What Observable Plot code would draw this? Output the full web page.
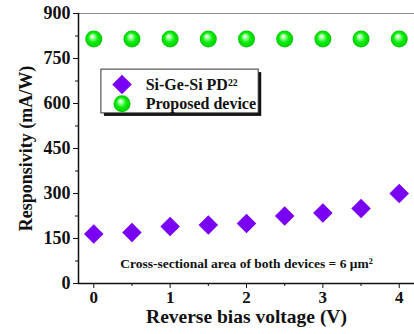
<!DOCTYPE html>
<html>
<head>
<meta charset="utf-8">
<script src="https://cdn.jsdelivr.net/npm/d3@7"></script>
<script src="https://cdn.jsdelivr.net/npm/@observablehq/plot@0.6"></script>
<style>
  html, body { margin: 0; padding: 0; background: #fff; }
  #chart svg { display: block; }
</style>
</head>
<body>
<div id="chart"></div>
<script>
// ---- data ----
const voltage = [0, 0.5, 1, 1.5, 2, 2.5, 3, 3.5, 4];
const siGeSi = [165, 170, 190, 195, 200, 225, 235, 250, 300];
const proposed = [815, 815, 815, 815, 815, 815, 815, 815, 815];
const seriesNames = ["Si-Ge-Si PD²²", "Proposed device"];
const yTicks = [0, 150, 300, 450, 600, 750, 900];
const yMinor = [75, 225, 375, 525, 675, 825];
const xTicks = [0, 1, 2, 3, 4];
const xMinor = [0.5, 1.5, 2.5, 3.5];
const xLabel = "Reverse bias voltage (V)";
const yLabel = "Responsivity (mA/W)";
const note = "Cross-sectional area of both devices = 6 μm²";

// legend placement (data coordinates)
const legendBox = {x1: 0.1, x2: 2.16, y1: 567, y2: 713};
const legendSym = 0.37, legendText = 0.68;
const legendRows = [663, 599];

const purple = "#7a00f5";
const serif = "Liberation Serif";

const pts1 = voltage.map((v, i) => ({v, r: siGeSi[i]}));
const pts2 = voltage.map((v, i) => ({v, r: proposed[i]}));

const chart = Plot.plot({
  width: 414,
  height: 334,
  marginLeft: 78,
  marginRight: 0,
  marginTop: 13,
  marginBottom: 51,
  style: {fontSize: "18px", color: "#111", background: "#fff", fontFamily: serif},
  x: {domain: [-0.2, 4.2]},
  y: {domain: [0, 900]},
  marks: [
    // axes
    Plot.axisY({ticks: yTicks, tickSize: 5, tickPadding: 3, tickFormat: d => String(d), label: null, fontSize: 18}),
    Plot.axisY({ticks: yMinor, tickSize: 3, tickFormat: () => "", label: null}),
    Plot.axisX({ticks: xTicks, tickSize: 5, tickPadding: 2, tickFormat: d => String(d), label: null, fontSize: 17}),
    Plot.axisX({ticks: xMinor, tickSize: 3, tickFormat: () => "", label: null}),
    Plot.ruleY([900], {stroke: "#888", strokeWidth: 1.2}),
    Plot.ruleX([-0.2], {stroke: "#111", strokeWidth: 1.5}),
    Plot.ruleY([0], {stroke: "#111", strokeWidth: 1.5}),
    // axis titles
    Plot.text([xLabel], {frameAnchor: "bottom", dy: 39, fontSize: 19.5, fill: "#111"}),
    Plot.text([yLabel], {frameAnchor: "left", textAnchor: "middle", dx: -52, rotate: -90, fontSize: 18, fill: "#111"}),
    // annotation
    Plot.text([note], {x: () => 2, y: () => 67, fontSize: 13.5, fill: "#111"}),
    // legend
    Plot.rect([legendBox], {x1: "x1", x2: "x2", y1: "y1", y2: "y2", fill: "#111", dx: 3, dy: 3}),
    Plot.rect([legendBox], {x1: "x1", x2: "x2", y1: "y1", y2: "y2", fill: "#fff", stroke: "#333", strokeWidth: 1}),
    Plot.dot([legendRows[0]], {x: () => legendSym, y: d => d, symbol: "diamond2", r: 8.8, fill: purple}),
    Plot.dot([legendRows[1]], {x: () => legendSym, y: d => d, symbol: "circle", r: 8.5, fill: "url(#gball)"}),
    Plot.text(seriesNames, {x: () => legendText, y: (d, i) => legendRows[i], textAnchor: "start", fontSize: 16, fill: "#111"}),
    // data
    Plot.dot(pts1, {x: "v", y: "r", symbol: "diamond2", r: 8.8, fill: purple}),
    Plot.dot(pts2, {x: "v", y: "r", symbol: "circle", r: 8.5, fill: "url(#gball)"})
  ]
});

chart.insertAdjacentHTML("afterbegin",
  `<defs><radialGradient id="gball" cx="50%" cy="50%" r="50%" fx="40%" fy="32%">
     <stop offset="0%" stop-color="#ffffff"/>
     <stop offset="25%" stop-color="#9cff9c"/>
     <stop offset="55%" stop-color="#10f010"/>
     <stop offset="100%" stop-color="#00c800"/>
   </radialGradient></defs>`);

chart.setAttribute("font-family", serif);
chart.setAttribute("font-weight", "bold");
chart.querySelectorAll("text, g").forEach(el => {
  el.setAttribute("font-family", serif);
  el.style.fontFamily = serif;
  el.style.fontWeight = "bold";
});

document.getElementById("chart").appendChild(chart);
</script>
</body>
</html>
